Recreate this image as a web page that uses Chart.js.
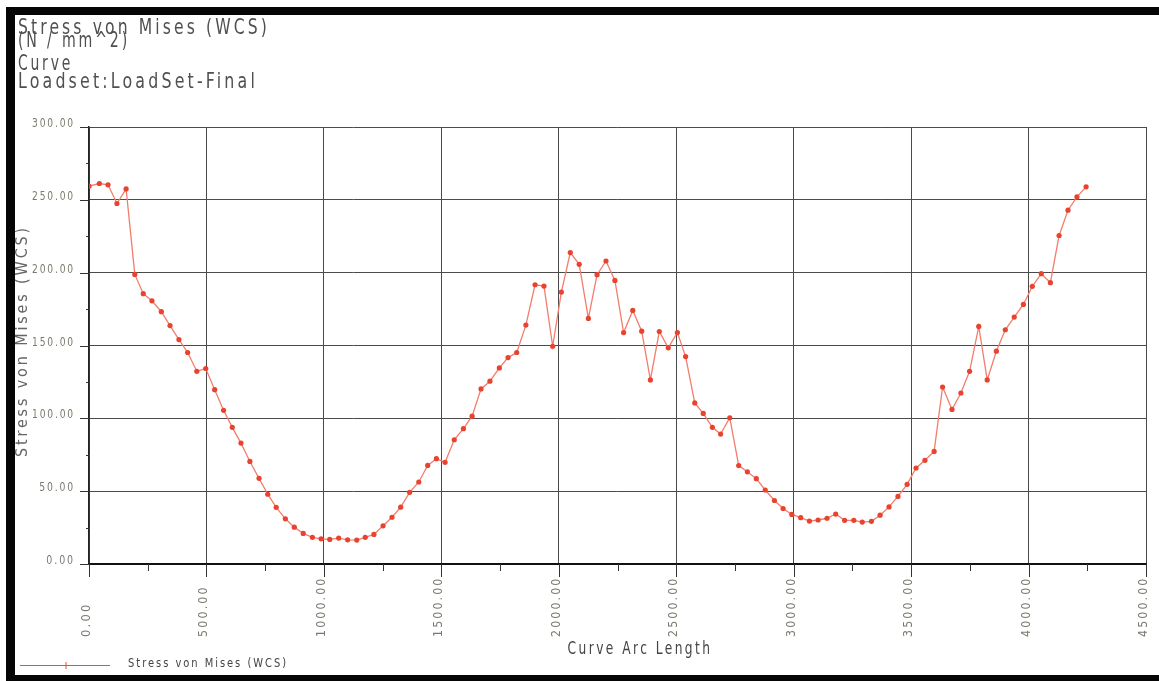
<!DOCTYPE html>
<html>
<head>
<meta charset="utf-8">
<script src="https://cdn.jsdelivr.net/npm/chart.js@4/dist/chart.umd.min.js"></script>
<style>
  html, body { margin: 0; padding: 0; background: #fff; }
  #wrap { width: 1159px; height: 681px; }
</style>
</head>
<body>
<div id="wrap"><canvas id="plot" width="1159" height="681"></canvas></div>
<script>
// curve arc length (x) and von Mises stress (y)
var arcLength = [0, 44, 81, 119, 158, 195, 231, 268, 308, 345,
    383, 420, 459, 497, 535, 573, 610, 647, 685, 724,
    761, 797, 836, 874, 912, 951, 988, 1025, 1063, 1101,
    1140, 1176, 1213, 1252, 1290, 1327, 1365, 1404, 1442, 1479,
    1516, 1555, 1594, 1631, 1669, 1707, 1747, 1784, 1821, 1860,
    1899, 1937, 1974, 2011, 2049, 2087, 2126, 2163, 2201, 2239,
    2276, 2315, 2353, 2390, 2428, 2466, 2505, 2540, 2579, 2615,
    2654, 2689, 2728, 2766, 2803, 2841, 2879, 2918, 2955, 2992,
    3030, 3067, 3104, 3142, 3179, 3217, 3256, 3292, 3331, 3368,
    3406, 3444, 3483, 3521, 3559, 3598, 3634, 3674, 3712, 3749,
    3788, 3824, 3863, 3901, 3939, 3978, 4016, 4054, 4093, 4130,
    4168, 4206, 4245];
var stress = [259.4, 261.2, 260.3, 247.5, 257.5, 198.8, 185.6, 180.7, 173.2, 163.7,
    154.1, 145.2, 132.3, 134.2, 119.7, 105.5, 93.8, 83.0, 70.4, 58.8,
    47.9, 38.9, 31.0, 25.3, 21.0, 18.3, 17.3, 16.9, 17.8, 16.6,
    16.4, 18.3, 20.3, 26.2, 32.1, 39.0, 49.2, 56.3, 67.7, 72.3,
    69.8, 85.3, 92.9, 101.5, 120.2, 125.5, 134.6, 141.7, 145.2, 164.0,
    191.7, 190.8, 149.5, 186.7, 213.8, 205.7, 168.6, 198.6, 208.0, 194.7,
    158.9, 174.1, 159.8, 126.4, 159.6, 148.4, 158.9, 142.4, 110.6, 103.4,
    93.8, 89.2, 100.4, 67.6, 63.3, 58.6, 50.8, 43.6, 38.1, 34.0,
    31.8, 29.5, 30.2, 31.4, 34.3, 30.0, 30.0, 28.8, 29.3, 33.5,
    39.2, 46.4, 54.7, 65.9, 71.2, 77.3, 121.5, 106.1, 117.4, 132.3,
    163.1, 126.4, 146.1, 160.8, 169.5, 178.2, 190.6, 199.3, 193.1, 225.5,
    242.9, 252.0, 258.9];
var xTicks = [0, 500, 1000, 1500, 2000, 2500, 3000, 3500, 4000, 4500];
var yTicks = [0, 50, 100, 150, 200, 250, 300];
var titleLines = ['Stress von Mises (WCS)', '(N / mm^2)', 'Curve', 'Loadset:LoadSet-Final'];
var xTitle = 'Curve Arc Length';
var yTitle = 'Stress von Mises (WCS)';
var seriesName = 'Stress von Mises (WCS)';

var FONT = "'DejaVu Sans Condensed', 'Liberation Sans Narrow', 'DejaVu Sans', sans-serif";

// draw text squeezed/stretched to a given width, thin CAD-ish look
function fitText(ctx, text, x, y, width, size, color, align) {
    ctx.save();
    ctx.font = size + 'px ' + FONT;
    ctx.letterSpacing = (size * 0.18) + 'px';
    ctx.fillStyle = color;
    ctx.textBaseline = 'alphabetic';
    ctx.textAlign = 'left';
    var w = ctx.measureText(text).width;
    var s = width / w;
    var x0 = x;
    if (align === 'right') x0 = x - width;
    if (align === 'center') x0 = x - width / 2;
    ctx.translate(x0, y);
    ctx.scale(s, 1);
    ctx.fillText(text, 0, 0);
    ctx.restore();
}

var decor = {
    id: 'decor',
    beforeDraw: function (chart) {
        var ctx = chart.ctx;
        ctx.save();
        ctx.fillStyle = '#fff';
        ctx.fillRect(0, 0, chart.width, chart.height);
        ctx.restore();
    },
    afterDraw: function (chart) {
        var ctx = chart.ctx;
        var xs = chart.scales.x, ys = chart.scales.y;
        var left = chart.chartArea.left, bottom = chart.chartArea.bottom;

        // header lines
        fitText(ctx, titleLines[0], 18, 34, 252, 21, '#505050');
        fitText(ctx, titleLines[1], 18, 47, 112, 21, '#505050');
        fitText(ctx, titleLines[2], 18, 70, 55, 21, '#505050');
        fitText(ctx, titleLines[3], 18, 88, 240, 21, '#505050');

        // major and minor ticks outside the plot
        ctx.save();
        ctx.strokeStyle = '#333';
        ctx.lineWidth = 1;
        ctx.beginPath();
        for (var v = 0; v <= 300; v += 25) {
            var py = Math.round(ys.getPixelForValue(v)) + 0.5;
            var len = (v % 50 === 0) ? 9 : 3;
            ctx.moveTo(left - len, py);
            ctx.lineTo(left, py);
        }
        for (var u = 0; u <= 4500; u += 250) {
            var px = Math.round(xs.getPixelForValue(u)) + 0.5;
            var l2 = (u % 500 === 0) ? 13 : 7;
            ctx.moveTo(px, bottom);
            ctx.lineTo(px, bottom + l2);
        }
        ctx.stroke();
        ctx.restore();

        yTicks.forEach(function (t) {
            var label = t.toFixed(2);
            var w = 43 * label.length / 6;
            fitText(ctx, label, 75, ys.getPixelForValue(t), w, 13, '#7a7a70', 'right');
        });

        xTicks.forEach(function (t) {
            var label = t.toFixed(2);
            var w = 57 * label.length / 6.6;
            ctx.save();
            ctx.translate(xs.getPixelForValue(t) + 1, 637);
            ctx.rotate(-Math.PI / 2);
            fitText(ctx, label, 0, 0, w, 13, '#7a7a70');
            ctx.restore();
        });

        // axis titles
        fitText(ctx, xTitle, 640, 654, 145, 18, '#444', 'center');
        ctx.save();
        ctx.translate(27, 341);
        ctx.rotate(-Math.PI / 2);
        fitText(ctx, yTitle, 0, 0, 232, 15, '#666', 'center');
        ctx.restore();

        // legend
        ctx.save();
        ctx.strokeStyle = '#e8503a';
        ctx.lineWidth = 1;
        ctx.beginPath();
        ctx.moveTo(20, 665.5);
        ctx.lineTo(110, 665.5);
        ctx.moveTo(66, 662);
        ctx.lineTo(66, 669);
        ctx.moveTo(63, 665.5);
        ctx.lineTo(69, 665.5);
        ctx.stroke();
        ctx.restore();
        fitText(ctx, seriesName, 128, 667, 160, 12, '#444');

        // scanned frame
        ctx.save();
        ctx.fillStyle = '#050505';
        ctx.fillRect(6, 7, 1153, 8);
        ctx.fillRect(6, 7, 9, 674);
        ctx.fillRect(6, 675, 1153, 6);
        ctx.restore();
    }
};

var points = arcLength.map(function (x, i) { return { x: x, y: stress[i] }; });

new Chart(document.getElementById('plot').getContext('2d'), {
    type: 'line',
    data: {
        datasets: [{
            label: seriesName,
            data: points,
            borderColor: '#f37d6c',
            borderWidth: 1.3,
            pointRadius: 2.6,
            pointBorderWidth: 0,
            pointBackgroundColor: '#e8432f',
            tension: 0,
            fill: false
        }]
    },
    options: {
        responsive: false,
        animation: false,
        devicePixelRatio: 1,
        layout: { padding: { left: 89, top: 127, right: 13, bottom: 117 } },
        plugins: { legend: { display: false }, tooltip: { enabled: false } },
        scales: {
            x: {
                type: 'linear',
                min: 0,
                max: 4500,
                ticks: { display: false, stepSize: 500 },
                grid: { color: '#4a4a4a', lineWidth: 1, drawTicks: false },
                border: { color: '#111', width: 2 }
            },
            y: {
                min: 0,
                max: 300,
                ticks: { display: false, stepSize: 50 },
                grid: { color: '#4a4a4a', lineWidth: 1, drawTicks: false },
                border: { color: '#222', width: 1.5 }
            }
        }
    },
    plugins: [decor]
});
</script>
</body>
</html>
